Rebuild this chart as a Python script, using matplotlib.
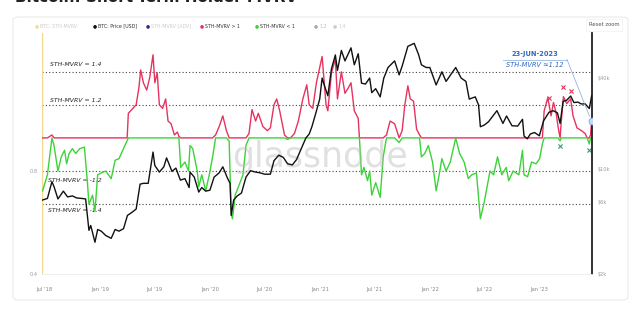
import numpy as np
import pandas as pd
import matplotlib.pyplot as plt
import matplotlib.dates as mdates
from matplotlib.patches import FancyBboxPatch
from matplotlib.ticker import NullLocator

plt.rcParams['font.family'] = ['DejaVu Sans']

# BTC price [USD]
price_dates = [
    "2018-06-24", "2018-07-10", "2018-07-25", "2018-08-01", "2018-08-14", "2018-09-01", "2018-09-15",
    "2018-10-01", "2018-10-15", "2018-11-01", "2018-11-14", "2018-11-25", "2018-12-01", "2018-12-15",
    "2018-12-24", "2019-01-05", "2019-01-20", "2019-02-07", "2019-02-20", "2019-03-05", "2019-03-20",
    "2019-04-02", "2019-04-15", "2019-05-01", "2019-05-14", "2019-05-25", "2019-06-10", "2019-06-26",
    "2019-07-02", "2019-07-17", "2019-08-01", "2019-08-10", "2019-08-28", "2019-09-10", "2019-09-25",
    "2019-10-10", "2019-10-24", "2019-10-27", "2019-11-10", "2019-11-25", "2019-12-05", "2019-12-18",
    "2020-01-01", "2020-01-15", "2020-02-01", "2020-02-13", "2020-02-28", "2020-03-08", "2020-03-12",
    "2020-03-20", "2020-04-01", "2020-04-15", "2020-04-30", "2020-05-15", "2020-06-01", "2020-06-15",
    "2020-07-01", "2020-07-20", "2020-08-01", "2020-08-17", "2020-09-01", "2020-09-15", "2020-10-01",
    "2020-10-15", "2020-11-01", "2020-11-15", "2020-11-26", "2020-12-05", "2020-12-17", "2020-12-31",
    "2021-01-08", "2021-01-15", "2021-01-27", "2021-02-08", "2021-02-21", "2021-02-28", "2021-03-13",
    "2021-03-25", "2021-04-14", "2021-04-25", "2021-05-08", "2021-05-19", "2021-06-01", "2021-06-15",
    "2021-06-22", "2021-07-05", "2021-07-20", "2021-08-01", "2021-08-15", "2021-09-06", "2021-09-21",
    "2021-10-01", "2021-10-20", "2021-11-10", "2021-11-25", "2021-12-04", "2021-12-20", "2022-01-01",
    "2022-01-22", "2022-02-10", "2022-02-24", "2022-03-28", "2022-04-15", "2022-05-01", "2022-05-12",
    "2022-06-01", "2022-06-12", "2022-06-18", "2022-07-01", "2022-07-15", "2022-08-12", "2022-09-01",
    "2022-09-13", "2022-10-01", "2022-10-20", "2022-11-05", "2022-11-10", "2022-11-21", "2022-12-01",
    "2022-12-15", "2022-12-31", "2023-01-14", "2023-02-01", "2023-02-15", "2023-03-01", "2023-03-10",
    "2023-03-20", "2023-04-01", "2023-04-14", "2023-04-25", "2023-05-08", "2023-05-20", "2023-06-01",
    "2023-06-15", "2023-06-23",
]
price_usd = [
    6200, 6350, 8200, 7600, 6300, 7100, 6500,
    6600, 6400, 6350, 6300, 3900, 4200, 3250,
    3950, 3850, 3600, 3450, 3950, 3850, 4000,
    4900, 5100, 5400, 7900, 8000, 8000, 12900,
    10500, 9500, 10300, 11800, 9600, 10100, 8400,
    8600, 7500, 9500, 8800, 7000, 7500, 7100,
    7200, 8800, 9400, 10300, 8700, 8000, 4900,
    6200, 6600, 6900, 8800, 9700, 9500, 9400,
    9200, 9200, 11300, 12300, 11900, 10800, 10600,
    11500, 13800, 16000, 17000, 19000, 23000, 29000,
    40000, 36000, 30500, 46000, 57000, 45000, 61000,
    52000, 63500, 49000, 58000, 37000, 36500, 40000,
    32000, 34000, 30000, 40000, 47000, 52000, 42000,
    48000, 65000, 68000, 57000, 49000, 47000, 47000,
    36000, 44000, 38000, 47000, 40000, 38000, 29000,
    30000, 26500, 19000, 19500, 20500, 24300, 20000,
    22400, 19300, 19200, 21300, 16500, 15800, 17000,
    17400, 16550, 20800, 23700, 24300, 23500, 20000,
    28000, 28500, 30400, 27500, 27700, 26900, 27000,
    25100, 30600,
]

# STH-MVRV
mvrv_dates = [
    "2018-06-24", "2018-07-10", "2018-07-25", "2018-08-01", "2018-08-14", "2018-08-25", "2018-09-05",
    "2018-09-12", "2018-09-20", "2018-10-01", "2018-10-12", "2018-10-25", "2018-11-10", "2018-11-20",
    "2018-11-25", "2018-12-07", "2018-12-15", "2018-12-24", "2019-01-05", "2019-01-20", "2019-02-07",
    "2019-02-20", "2019-03-05", "2019-03-20", "2019-04-01", "2019-04-05", "2019-04-20", "2019-05-01",
    "2019-05-10", "2019-05-16", "2019-05-25", "2019-06-05", "2019-06-15", "2019-06-26", "2019-07-02",
    "2019-07-10", "2019-07-17", "2019-07-28", "2019-08-07", "2019-08-15", "2019-08-25", "2019-09-05",
    "2019-09-15", "2019-09-20", "2019-09-26", "2019-10-10", "2019-10-22", "2019-10-27", "2019-11-05",
    "2019-11-20", "2019-11-25", "2019-12-05", "2019-12-18", "2019-12-30", "2020-01-10", "2020-01-20",
    "2020-02-01", "2020-02-13", "2020-02-25", "2020-03-05", "2020-03-12", "2020-03-16", "2020-03-25",
    "2020-04-05", "2020-04-20", "2020-04-30", "2020-05-10", "2020-05-20", "2020-06-01", "2020-06-10",
    "2020-06-25", "2020-07-10", "2020-07-20", "2020-08-01", "2020-08-10", "2020-08-20", "2020-09-05",
    "2020-09-15", "2020-09-25", "2020-10-08", "2020-10-21", "2020-11-05", "2020-11-18", "2020-11-26",
    "2020-12-08", "2020-12-20", "2021-01-08", "2021-01-21", "2021-01-27", "2021-02-08", "2021-02-21",
    "2021-02-28", "2021-03-13", "2021-03-25", "2021-04-05", "2021-04-14", "2021-04-25", "2021-05-08",
    "2021-05-12", "2021-05-19", "2021-05-27", "2021-06-08", "2021-06-15", "2021-06-22", "2021-07-05",
    "2021-07-20", "2021-07-30", "2021-08-10", "2021-08-22", "2021-09-06", "2021-09-21", "2021-10-01",
    "2021-10-10", "2021-10-20", "2021-10-28", "2021-11-08", "2021-11-18", "2021-11-28", "2021-12-04",
    "2021-12-15", "2021-12-27", "2022-01-10", "2022-01-22", "2022-02-01", "2022-02-10", "2022-02-24",
    "2022-03-10", "2022-03-28", "2022-04-10", "2022-04-25", "2022-05-09", "2022-05-20", "2022-06-05",
    "2022-06-13", "2022-06-18", "2022-07-01", "2022-07-20", "2022-08-01", "2022-08-14", "2022-08-28",
    "2022-09-12", "2022-09-20", "2022-10-05", "2022-10-24", "2022-11-05", "2022-11-10", "2022-11-22",
    "2022-12-05", "2022-12-20", "2023-01-01", "2023-01-10", "2023-01-16", "2023-01-28", "2023-02-08",
    "2023-02-16", "2023-02-25", "2023-03-03", "2023-03-10", "2023-03-14", "2023-03-21", "2023-04-01",
    "2023-04-14", "2023-04-22", "2023-05-05", "2023-05-20", "2023-06-01", "2023-06-08", "2023-06-15",
    "2023-06-19", "2023-06-23",
]
sth_mvrv = [
    0.70, 0.78, 1.02, 0.95, 0.80, 0.88, 0.92,
    0.84, 0.90, 0.93, 0.90, 0.93, 0.94, 0.74,
    0.64, 0.68, 0.61, 0.78, 0.79, 0.80, 0.76,
    0.86, 0.87, 0.93, 0.98, 1.18, 1.22, 1.25,
    1.40, 1.58, 1.45, 1.38, 1.50, 1.75, 1.45,
    1.55, 1.25, 1.22, 1.30, 1.12, 1.10, 1.02,
    1.04, 1.01, 0.82, 0.85, 0.80, 0.95, 0.93,
    0.80, 0.72, 0.78, 0.70, 0.78, 0.88, 1.02,
    1.08, 1.16, 1.05, 0.98, 0.60, 0.58, 0.68,
    0.72, 0.78, 0.95, 1.03, 1.21, 1.12, 1.18,
    1.08, 1.05, 1.07, 1.25, 1.30, 1.20, 1.02,
    0.99, 1.00, 1.03, 1.12, 1.30, 1.43, 1.25,
    1.22, 1.45, 1.73, 1.25, 1.20, 1.55, 1.70,
    1.30, 1.56, 1.35, 1.40, 1.45, 1.20, 1.14,
    1.00, 0.78, 0.82, 0.75, 0.80, 0.68, 0.74,
    0.67, 0.88, 1.02, 1.12, 1.10, 0.97, 1.05,
    1.25, 1.42, 1.30, 1.28, 1.06, 1.02, 0.88,
    0.90, 0.95, 0.85, 0.70, 0.78, 0.87, 0.80,
    0.85, 1.00, 0.90, 0.85, 0.76, 0.78, 0.79,
    0.65, 0.58, 0.65, 0.80, 0.78, 0.88, 0.78,
    0.82, 0.75, 0.80, 0.78, 0.92, 0.78, 0.77,
    0.85, 0.84, 0.87, 0.96, 1.20, 1.31, 1.16,
    1.27, 1.18, 1.08, 0.98, 1.12, 1.32, 1.26,
    1.30, 1.16, 1.07, 1.05, 1.03, 1.00, 0.96,
    1.02, 1.12,
]

# guide levels drawn by hand on the chart
guide_levels = [1.5625, 1.25, 0.8, 0.64]
guide_labels = ["STH-MVRV = 1.4", "STH-MVRV = 1.2", "STH-MVRV = -1.2", "STH-MVRV = -1.4"]

# x markers
top_marks_dates = ["2023-02-01", "2023-03-18", "2023-04-14"]
top_marks_vals = [1.31, 1.41, 1.37]
low_marks_dates = ["2023-03-10", "2023-06-14"]
low_marks_vals = [0.95, 0.92]

last_date = "2023-06-23"
last_val = 1.12

x_ticks = ["2018-07-01", "2019-01-01", "2019-07-01", "2020-01-01", "2020-07-01",
           "2021-01-01", "2021-07-01", "2022-01-01", "2022-07-01", "2023-01-01"]
x_tick_labels = ["Jul '18", "Jan '19", "Jul '19", "Jan '20", "Jul '20",
                 "Jan '21", "Jul '21", "Jan '22", "Jul '22", "Jan '23"]
price_ticks = [2000, 6000, 10000, 40000]
price_tick_labels = ["$2k", "$6k", "$10k", "$40k"]

RED = '#e6335f'
GREEN = '#3dd23a'
BLUE = '#2f68bd'

pdates = pd.to_datetime(price_dates)
mdts = pd.to_datetime(mvrv_dates)
mv = np.array(sth_mvrv)

fig = plt.figure(figsize=(6.4, 3.09), dpi=100)
W, H = 640, 309

# card
card = FancyBboxPatch((13 / W, 9 / H), 615 / W, 283 / H, boxstyle="round,pad=0,rounding_size=0.01",
                      transform=fig.transFigure, fc='white', ec='#ebebeb', lw=0.8, zorder=-10)
fig.add_artist(card)

fig.text(15 / W, 1 - 2.5 / H, "Bitcoin: Short-Term Holder MVRV", fontsize=11, weight='bold',
         color='#222222', va='baseline', ha='left')

ax = fig.add_axes([42 / W, 1 - 274 / H, 550 / W, 241 / H])
ax.patch.set_alpha(0)
ax.set_yscale('log')
ax.set_ylim(0.4, 0.4 * 10 ** (241 / 342))
ax.set_xlim(pd.Timestamp("2018-06-22"), pd.Timestamp("2023-06-24"))

for lv in guide_levels:
    ax.axhline(lv, color='#444444', lw=0.8, ls=(0, (1, 2)), zorder=1)
label_pos = [(50, 64), (50, 100), (48, 180), (48, 211)]
for (px, py), lab in zip(label_pos, guide_labels):
    ax.text((px - 42) / 550, (274 - py) / 241, lab, transform=ax.transAxes, fontsize=4.4,
            style='italic', color='#222', va='center', zorder=1)

ax.plot(mdts, np.maximum(mv, 1), color=RED, lw=1.0, zorder=3)
ax.plot(mdts, np.minimum(mv, 1), color=GREEN, lw=1.0, zorder=3)

ax.scatter(pd.to_datetime(top_marks_dates), top_marks_vals, marker='x', s=9, color=RED, lw=0.8, zorder=5)
ax.scatter(pd.to_datetime(low_marks_dates), low_marks_vals, marker='x', s=9, color='#3a9a7a', lw=0.8, zorder=5)

ax.text(0.505, 0.485, "glassnode", transform=ax.transAxes, fontsize=25, color='#bbbbbb', alpha=0.45,
        ha='center', va='center', zorder=6)

ax.set_xticks(pd.to_datetime(x_ticks))
ax.set_xticklabels(x_tick_labels)
ax.tick_params(axis='x', length=0, labelsize=3.8, labelcolor='#888888', pad=9)
ax.set_yticks([0.4, 0.8])
ax.set_yticklabels(["0.4", "0.8"])
ax.yaxis.set_minor_locator(NullLocator())
ax.tick_params(axis='y', length=0, labelsize=3.6, labelcolor='#999999', pad=3)

# price axis
ax2 = ax.twinx()
ax2.set_yscale('log')
ax2.set_ylim(2000, 2000 * 10 ** (241 / 150.6))
ax2.plot(pdates, price_usd, color='#111111', lw=1.0, zorder=4)
ax2.set_yticks(price_ticks)
ax2.set_yticklabels(price_tick_labels)
ax2.yaxis.set_minor_locator(NullLocator())
ax2.tick_params(axis='y', length=0, labelsize=3.6, labelcolor='#999999', pad=4)

for a in (ax, ax2):
    a.spines['top'].set_visible(False)
    a.spines['left'].set_visible(False)
    a.spines['right'].set_visible(False)
    a.spines['bottom'].set_color('#eeeeee')
    a.spines['bottom'].set_linewidth(0.6)
ax.axvline(ax.get_xlim()[0], color='#f2d88a', lw=1.0, zorder=2)
ax2.spines['right'].set_visible(True)
ax2.spines['right'].set_color('#222222')
ax2.spines['right'].set_linewidth(1.3)

# annotation of last point (drawn on the price axes so it sits on top)
lx = mdates.date2num(pd.Timestamp(last_date))
circ = ax.transAxes.inverted().transform(ax.transData.transform((lx, last_val)))
ann_c = '#7fa8e0'
ax2.plot([circ[0]], [circ[1]], 'o', ms=5, mfc='#c5dbf5', mec=ann_c, mew=0.6,
         transform=ax.transAxes, zorder=7)
uy = (274 - 59.5) / 241
ax2.plot([(503 - 42) / 550, (567 - 42) / 550], [uy, uy], color=ann_c, lw=0.5, transform=ax.transAxes, zorder=7)
ax2.plot([(567 - 42) / 550, circ[0] - 0.004], [uy, circ[1] + 0.02], color=ann_c, lw=0.5,
         transform=ax.transAxes, zorder=7)
ax2.text((535 - 42) / 550, (274 - 54) / 241, "23-JUN-2023", transform=ax.transAxes, fontsize=4.8,
         weight='bold', color=BLUE, ha='center', va='center', zorder=7)
ax2.text((535 - 42) / 550, (274 - 65) / 241, "STH-MVRV \u22481.12", transform=ax.transAxes, fontsize=4.8,
         style='italic', color=BLUE, ha='center', va='center', zorder=7)

# legend
legend_items = [
    (37, '#f3dc9a', "BTC: STH-MVRV", '#cccccc'),
    (95, '#111111', "BTC: Price [USD]", '#333333'),
    (148, '#2d2f8f', "STH-MVRV [ADV]", '#cccccc'),
    (202, RED, "STH-MVRV > 1", '#333333'),
    (257, GREEN, "STH-MVRV < 1", '#333333'),
    (316, '#aaaaaa', "1.2", '#bbbbbb'),
    (335, '#cccccc', "1.4", '#cccccc'),
]
ly = 1 - 26 / H
for x0, mc, lab, tc in legend_items:
    fig.text(x0 / W, ly, "\u25cf", color=mc, fontsize=3.4, ha='center', va='center')
    fig.text((x0 + 3) / W, ly, lab, color=tc, fontsize=3.4, ha='left', va='center')

fig.text(604 / W, 1 - 25 / H, "Reset zoom", fontsize=3.8, color='#555555', ha='center', va='center',
         bbox=dict(boxstyle='square,pad=0.6', fc='white', ec='#f0f0f0', lw=0.5))

fig.savefig('out.png', dpi=100)
